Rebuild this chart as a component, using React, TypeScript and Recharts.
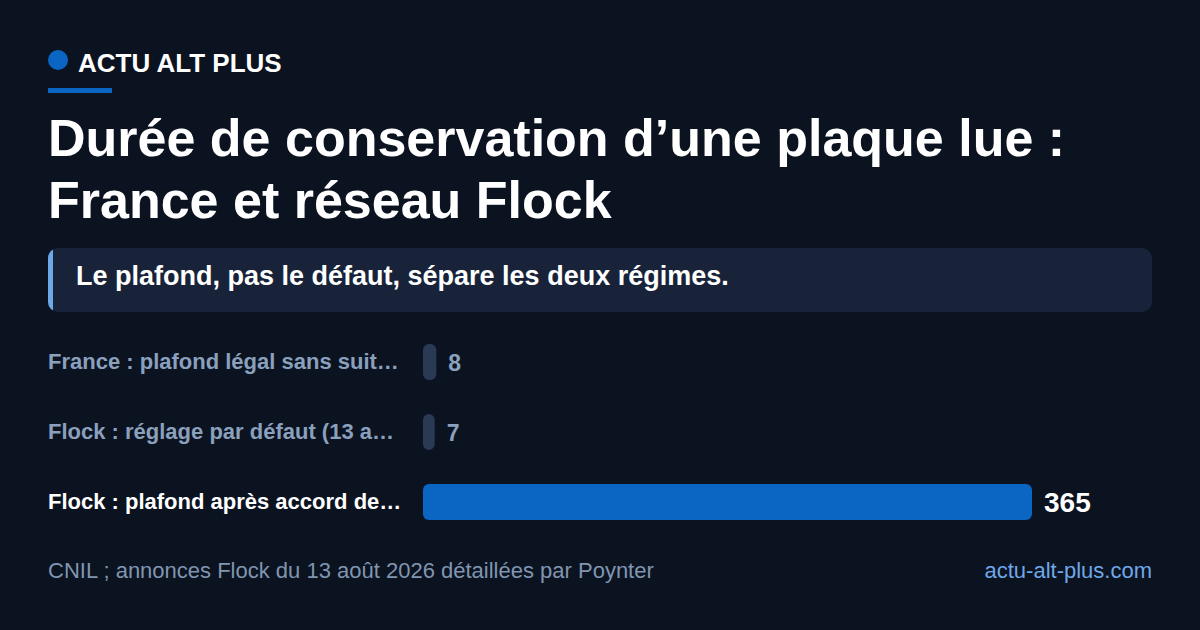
import React from "react";
import { Bar, BarChart, Cell, LabelList, XAxis, YAxis } from "recharts";

const categories = [
  "France : plafond légal sans suit…",
  "Flock : réglage par défaut (13 a…",
  "Flock : plafond après accord de…",
];
const days = [8, 7, 365];
const highlighted = [false, false, true];

const data = categories.map((name, i) => ({ name, days: days[i], hi: highlighted[i] }));

const BG = "#0b1220";
const BLUE = "#0b66c3";
const MUTED_BAR = "#2a3a55";
const MUTED_TEXT = "#8aa0bd";
const FONT = "'Liberation Sans', Arial, sans-serif";

function CategoryTick({ y, payload, index }: any) {
  const hi = highlighted[index];
  return (
    <text
      x={0}
      y={y}
      dy={7}
      textAnchor="start"
      fill={hi ? "#ffffff" : MUTED_TEXT}
      fontSize={22}
      fontWeight={700}
      fontFamily={FONT}
    >
      {payload.value}
    </text>
  );
}

function ValueLabel({ x, y, width, height, value, index }: any) {
  const hi = highlighted[index];
  return (
    <text
      x={x + width + 12}
      y={y + height / 2}
      dy={hi ? 10 : 9}
      fill={hi ? "#ffffff" : MUTED_TEXT}
      fontSize={hi ? 28 : 23}
      fontWeight={700}
      fontFamily={FONT}
    >
      {value}
    </text>
  );
}

export default function App() {
  return (
    <div
      style={{
        position: "absolute",
        left: 0,
        top: 0,
        width: 1200,
        height: 630,
        background: BG,
        fontFamily: FONT,
        overflow: "hidden",
      }}
    >
      <div style={{ position: "absolute", left: 48, top: 50, width: 20, height: 20, borderRadius: 10, background: BLUE }} />
      <div style={{ position: "absolute", left: 78, top: 47, fontSize: 26, fontWeight: 700, color: "#ffffff", lineHeight: "32px" }}>
        ACTU ALT PLUS
      </div>
      <div style={{ position: "absolute", left: 48, top: 88, width: 64, height: 5, background: BLUE }} />

      <div
        style={{
          position: "absolute",
          left: 48,
          top: 107,
          width: 1110,
          fontSize: 52,
          fontWeight: 700,
          color: "#ffffff",
          lineHeight: "62px",
          whiteSpace: "nowrap",
        }}
      >
        Durée de conservation d’une plaque lue :<br />
        France et réseau Flock
      </div>

      <div
        style={{
          position: "absolute",
          left: 48,
          top: 248,
          width: 1104,
          height: 64,
          background: "#18233a",
          borderRadius: 10,
          overflow: "hidden",
        }}
      >
        <div style={{ position: "absolute", left: 0, top: 0, width: 5, height: 64, background: "#6fa8e8", borderRadius: 3 }} />
        <div style={{ position: "absolute", left: 28, top: 12, fontSize: 27, fontWeight: 700, color: "#ffffff", lineHeight: "32px", whiteSpace: "nowrap" }}>
          Le plafond, pas le défaut, sépare les deux régimes.
        </div>
      </div>

      <div style={{ position: "absolute", left: 48, top: 327 }}>
        <BarChart
          width={1104}
          height={210}
          data={data}
          layout="vertical"
          margin={{ top: 0, right: 120, left: 0, bottom: 0 }}
          barSize={36}
        >
          <XAxis type="number" domain={[0, 365]} hide />
          <YAxis
            type="category"
            dataKey="name"
            width={375}
            axisLine={false}
            tickLine={false}
            tick={<CategoryTick />}
            interval={0}
          />
          <Bar dataKey="days" radius={6} isAnimationActive={false}>
            {data.map((d, i) => (
              <Cell key={i} fill={d.hi ? BLUE : MUTED_BAR} />
            ))}
            <LabelList dataKey="days" content={<ValueLabel />} />
          </Bar>
        </BarChart>
      </div>

      <div style={{ position: "absolute", left: 48, top: 557, fontSize: 22, color: "#8096b0", lineHeight: "28px", whiteSpace: "nowrap" }}>
        CNIL ; annonces Flock du 13 août 2026 détaillées par Poynter
      </div>
      <div style={{ position: "absolute", right: 48, top: 557, fontSize: 22, color: "#6fa8e8", lineHeight: "28px", whiteSpace: "nowrap" }}>
        actu-alt-plus.com
      </div>
    </div>
  );
}
